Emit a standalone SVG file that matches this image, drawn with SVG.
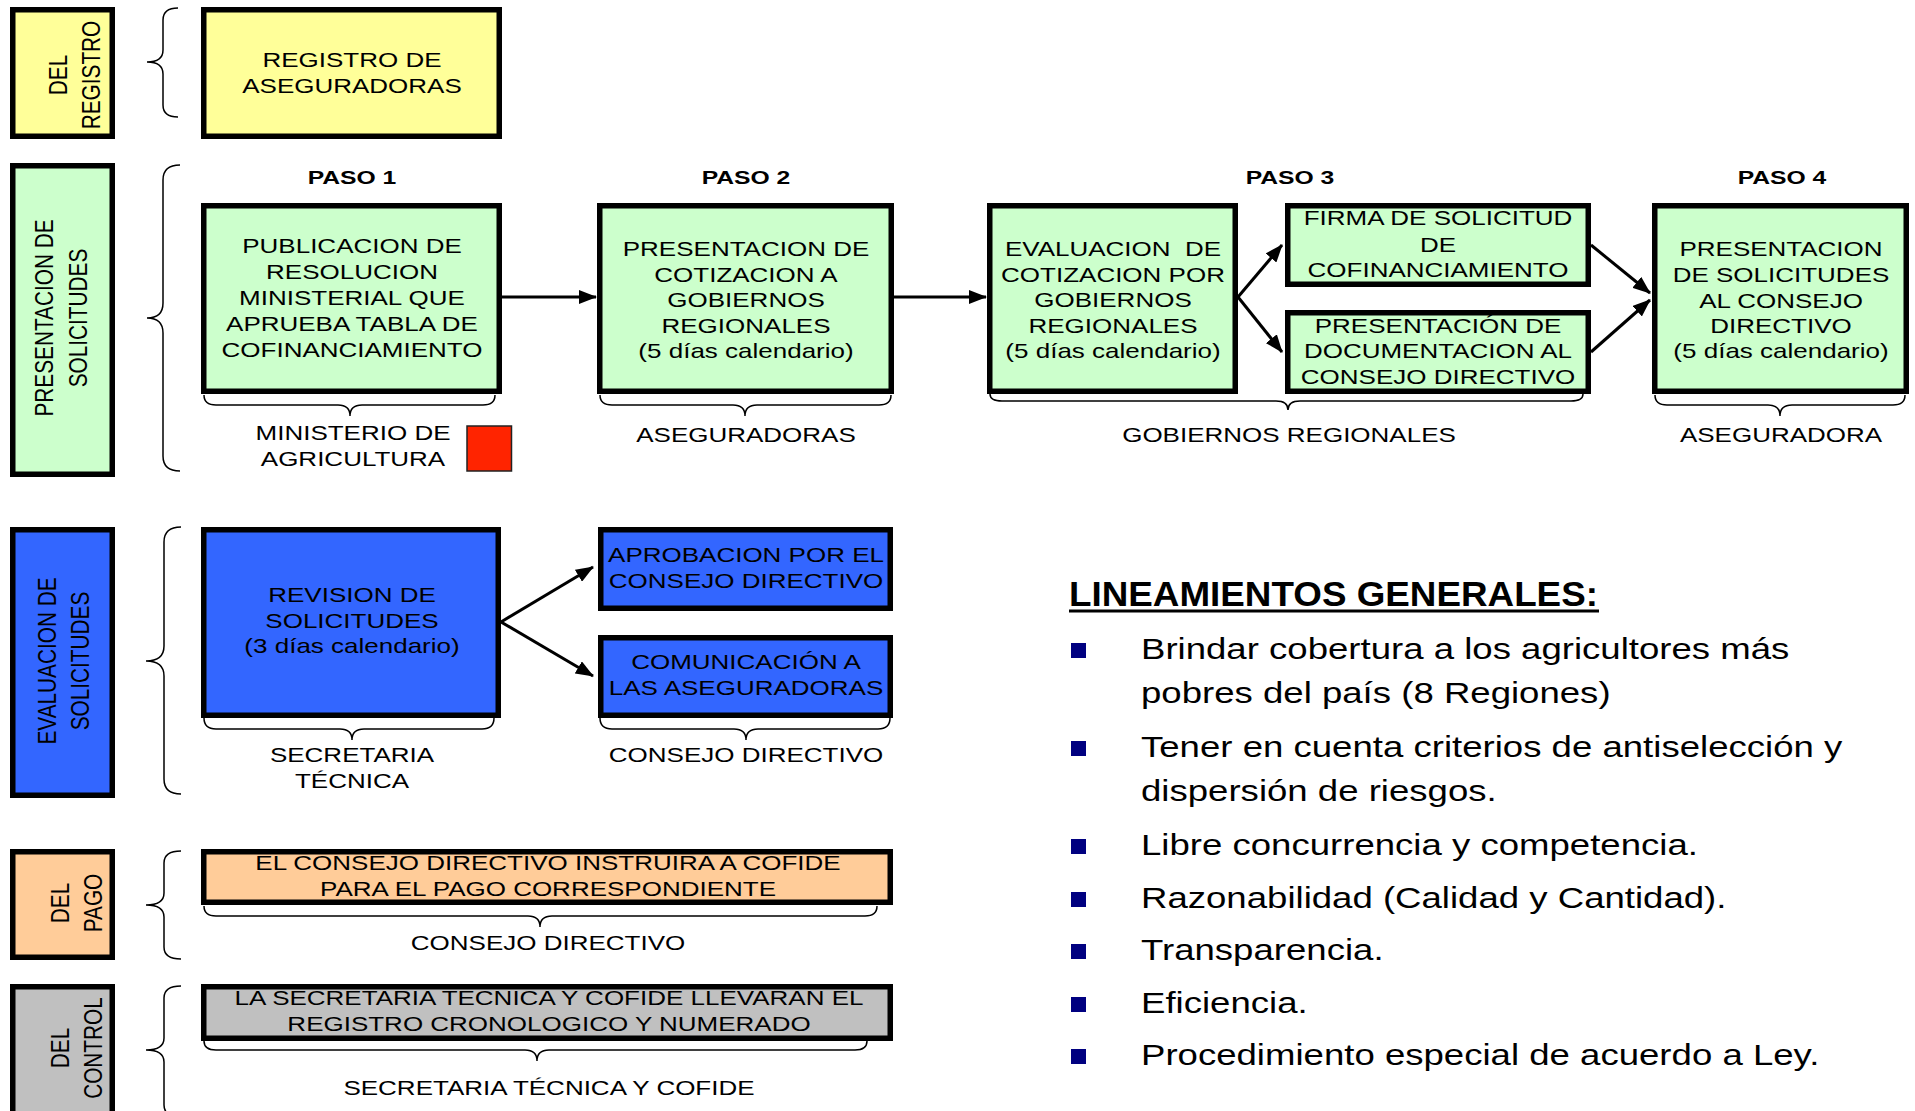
<svg xmlns="http://www.w3.org/2000/svg" width="1915" height="1111" viewBox="0 0 1915 1111">
<defs>
<style>
.box{stroke:#000;stroke-width:5.5}
.yel{fill:#FFFF99}
.grn{fill:#CCFFCC}
.blu{fill:#3366FF}
.org{fill:#FFCC99}
.gry{fill:#C0C0C0}
.t{font-family:"Liberation Sans",Arial,Helvetica,sans-serif;font-size:20px;fill:#000;text-anchor:middle}
.s{font-family:"Liberation Sans",Arial,Helvetica,sans-serif;font-size:20.8px;fill:#000;text-anchor:middle}
.p{font-family:"Liberation Sans",Arial,Helvetica,sans-serif;font-size:19px;font-weight:bold;fill:#000;text-anchor:middle}
.h{font-family:"Liberation Sans",Arial,Helvetica,sans-serif;font-size:35.5px;font-weight:bold;fill:#000}
.bl{font-family:"Liberation Sans",Arial,Helvetica,sans-serif;font-size:29.5px;fill:#000}
.brace{fill:none;stroke:#000;stroke-width:1.5}
.arr{stroke:#000;stroke-width:3;fill:none;marker-end:url(#ah)}
.bul{fill:#000080}
</style>
<marker id="ah" viewBox="0 0 18 14" refX="17" refY="7" markerWidth="18" markerHeight="14" markerUnits="userSpaceOnUse" orient="auto">
<path d="M0,0 L18,7 L0,14 z" fill="#000"/>
</marker>
</defs>
<rect width="1915" height="1111" fill="#fff"/>

<!-- side labels -->
<g id="side-registro">
<rect class="box yel" x="12.75" y="9.75" width="99.5" height="126.5"/>
<text class="s" transform="translate(67 75) scale(1.22 1) rotate(-90)">DEL</text>
<text class="s" transform="translate(100 75) scale(1.22 1) rotate(-90)">REGISTRO</text>
</g>
<g id="side-presentacion">
<rect class="box grn" x="12.75" y="165.75" width="99.5" height="308.5"/>
<text class="s" transform="translate(53 318) scale(1.22 1) rotate(-90)">PRESENTACION DE</text>
<text class="s" transform="translate(87 318) scale(1.22 1) rotate(-90)">SOLICITUDES</text>
</g>
<g id="side-evaluacion">
<rect class="box blu" x="12.75" y="529.75" width="99.5" height="265.5"/>
<text class="s" transform="translate(56 661) scale(1.22 1) rotate(-90)">EVALUACION DE</text>
<text class="s" transform="translate(89 661) scale(1.22 1) rotate(-90)">SOLICITUDES</text>
</g>
<g id="side-pago">
<rect class="box org" x="12.75" y="851.75" width="99.5" height="105.5"/>
<text class="s" transform="translate(69 903) scale(1.22 1) rotate(-90)">DEL</text>
<text class="s" transform="translate(102 903) scale(1.22 1) rotate(-90)">PAGO</text>
</g>
<g id="side-control">
<rect class="box gry" x="12.75" y="986.75" width="99.5" height="135"/>
<text class="s" transform="translate(69 1048) scale(1.22 1) rotate(-90)">DEL</text>
<text class="s" transform="translate(102 1048) scale(1.22 1) rotate(-90)">CONTROL</text>
</g>

<!-- braces -->
<g id="braces">
<path class="brace" d="M178 8 Q163 8 163 20 L163 50 Q163 62 147 62 Q163 62 163 74 L163 105 Q163 117 178 117"/>
<path class="brace" d="M180 165 Q163 165 163 180 L163 303 Q163 318 147 318 Q163 318 163 333 L163 456 Q163 471 180 471"/>
<path class="brace" d="M181 527 Q164 527 164 542 L164 646 Q164 661 146 661 Q164 661 164 676 L164 779 Q164 794 181 794"/>
<path class="brace" d="M181 851 Q164 851 164 863 L164 893 Q164 905 146 905 Q164 905 164 917 L164 947 Q164 959 181 959"/>
<path class="brace" d="M181 986 Q164 986 164 998 L164 1038 Q164 1050 146 1050 Q164 1050 164 1062 L164 1105 Q164 1117 181 1117"/>
<path class="brace" d="M204 395 Q204 405 216 405 L338 405 Q350 405 350 416 Q350 405 362 405 L483 405 Q495 405 495 395"/>
<path class="brace" d="M600 395 Q600 405 612 405 L733 405 Q745 405 745 416 Q745 405 757 405 L879 405 Q891 405 891 395"/>
<path class="brace" d="M990 394 Q990 401 1002 401 L1276 401 Q1288 401 1288 410 Q1288 401 1300 401 L1571 401 Q1583 401 1583 394"/>
<path class="brace" d="M1655 395 Q1655 405 1667 405 L1768 405 Q1780 405 1780 416 Q1780 405 1792 405 L1893 405 Q1905 405 1905 395"/>
<path class="brace" d="M204 718 Q204 729 216 729 L340 729 Q352 729 352 740 Q352 729 364 729 L482 729 Q494 729 494 718"/>
<path class="brace" d="M600 718 Q600 729 612 729 L734 729 Q746 729 746 740 Q746 729 758 729 L878 729 Q890 729 890 718"/>
<path class="brace" d="M204 906 Q204 916 216 916 L528 916 Q540 916 540 927 Q540 916 552 916 L865 916 Q877 916 877 906"/>
<path class="brace" d="M204 1041 Q204 1050 216 1050 L525 1050 Q537 1050 537 1061 Q537 1050 549 1050 L855 1050 Q867 1050 867 1041"/>
</g>

<!-- nodes -->
<g id="registro-aseguradoras">
<rect class="box yel" x="203.75" y="9.75" width="295.5" height="126.5"/>
<text class="t" transform="translate(352 0) scale(1.3 1)"><tspan x="0" y="67">REGISTRO DE</tspan><tspan x="0" y="93">ASEGURADORAS</tspan></text>
</g>

<g id="paso-labels">
<text class="p" transform="translate(352 0) scale(1.3 1)" x="0" y="184">PASO 1</text>
<text class="p" transform="translate(746 0) scale(1.3 1)" x="0" y="184">PASO 2</text>
<text class="p" transform="translate(1290 0) scale(1.3 1)" x="0" y="184">PASO 3</text>
<text class="p" transform="translate(1782 0) scale(1.3 1)" x="0" y="184">PASO 4</text>
</g>

<g id="paso1">
<rect class="box grn" x="203.75" y="205.75" width="295.5" height="185.5"/>
<text class="t" transform="translate(352 0) scale(1.3 1)"><tspan x="0" y="253">PUBLICACION DE</tspan><tspan x="0" y="279">RESOLUCION</tspan><tspan x="0" y="305">MINISTERIAL QUE</tspan><tspan x="0" y="331">APRUEBA TABLA DE</tspan><tspan x="0" y="357">COFINANCIAMIENTO</tspan></text>
</g>
<g id="paso2">
<rect class="box grn" x="599.75" y="205.75" width="291.5" height="185.5"/>
<text class="t" transform="translate(746 0) scale(1.3 1)"><tspan x="0" y="256">PRESENTACION DE</tspan><tspan x="0" y="282">COTIZACION A</tspan><tspan x="0" y="307">GOBIERNOS</tspan><tspan x="0" y="333">REGIONALES</tspan><tspan x="0" y="358">(5 días calendario)</tspan></text>
</g>
<g id="paso3-evaluacion">
<rect class="box grn" x="989.75" y="205.75" width="245.5" height="185.5"/>
<text class="t" transform="translate(1113 0) scale(1.3 1)"><tspan x="0" y="256">EVALUACION&#160; DE</tspan><tspan x="0" y="282">COTIZACION POR</tspan><tspan x="0" y="307">GOBIERNOS</tspan><tspan x="0" y="333">REGIONALES</tspan><tspan x="0" y="358">(5 días calendario)</tspan></text>
</g>
<g id="paso3-firma">
<rect class="box grn" x="1287.75" y="205.75" width="300.5" height="78.5"/>
<text class="t" transform="translate(1438 0) scale(1.3 1)"><tspan x="0" y="225">FIRMA DE SOLICITUD</tspan><tspan x="0" y="252">DE</tspan><tspan x="0" y="277">COFINANCIAMIENTO</tspan></text>
</g>
<g id="paso3-documentacion">
<rect class="box grn" x="1287.75" y="312.75" width="300.5" height="78.5"/>
<text class="t" transform="translate(1438 0) scale(1.3 1)"><tspan x="0" y="333">PRESENTACIÓN DE</tspan><tspan x="0" y="358">DOCUMENTACION AL</tspan><tspan x="0" y="384">CONSEJO DIRECTIVO</tspan></text>
</g>
<g id="paso4">
<rect class="box grn" x="1654.75" y="205.75" width="251.5" height="185.5"/>
<text class="t" transform="translate(1781 0) scale(1.3 1)"><tspan x="0" y="256">PRESENTACION</tspan><tspan x="0" y="282">DE SOLICITUDES</tspan><tspan x="0" y="308">AL CONSEJO</tspan><tspan x="0" y="333">DIRECTIVO</tspan><tspan x="0" y="358">(5 días calendario)</tspan></text>
</g>

<g id="responsables-paso">
<text class="t" transform="translate(353 0) scale(1.3 1)"><tspan x="0" y="440">MINISTERIO DE</tspan><tspan x="0" y="466">AGRICULTURA</tspan></text>
<rect x="467" y="426" width="44.5" height="45" fill="#FF2400" stroke="#222" stroke-width="1.5"/>
<text class="t" transform="translate(746 0) scale(1.3 1)" x="0" y="442">ASEGURADORAS</text>
<text class="t" transform="translate(1289 0) scale(1.3 1)" x="0" y="442">GOBIERNOS REGIONALES</text>
<text class="t" transform="translate(1781 0) scale(1.3 1)" x="0" y="442">ASEGURADORA</text>
</g>

<g id="revision">
<rect class="box blu" x="203.75" y="529.75" width="294.5" height="185.5"/>
<text class="t" transform="translate(352 0) scale(1.3 1)"><tspan x="0" y="602">REVISION DE</tspan><tspan x="0" y="628">SOLICITUDES</tspan><tspan x="0" y="653">(3 días calendario)</tspan></text>
</g>
<g id="aprobacion">
<rect class="box blu" x="600.75" y="529.75" width="289.5" height="78.5"/>
<text class="t" transform="translate(746 0) scale(1.3 1)"><tspan x="0" y="562">APROBACION POR EL</tspan><tspan x="0" y="588">CONSEJO DIRECTIVO</tspan></text>
</g>
<g id="comunicacion">
<rect class="box blu" x="600.75" y="637.75" width="289.5" height="77.5"/>
<text class="t" transform="translate(746 0) scale(1.3 1)"><tspan x="0" y="669">COMUNICACIÓN A</tspan><tspan x="0" y="695">LAS ASEGURADORAS</tspan></text>
</g>
<g id="responsables-evaluacion">
<text class="t" transform="translate(352 0) scale(1.3 1)"><tspan x="0" y="762">SECRETARIA</tspan><tspan x="0" y="788">TÉCNICA</tspan></text>
<text class="t" transform="translate(746 0) scale(1.3 1)" x="0" y="762">CONSEJO DIRECTIVO</text>
</g>

<g id="pago">
<rect class="box org" x="203.75" y="851.75" width="686.5" height="50.5"/>
<text class="t" transform="translate(548 0) scale(1.3 1)"><tspan x="0" y="870">EL CONSEJO DIRECTIVO INSTRUIRA A COFIDE</tspan><tspan x="0" y="896">PARA EL PAGO CORRESPONDIENTE</tspan></text>
<text class="t" transform="translate(548 0) scale(1.3 1)" x="0" y="950">CONSEJO DIRECTIVO</text>
</g>
<g id="control">
<rect class="box gry" x="203.75" y="986.75" width="686.5" height="51.5"/>
<text class="t" transform="translate(549 0) scale(1.3 1)"><tspan x="0" y="1005">LA SECRETARIA TECNICA Y COFIDE LLEVARAN EL</tspan><tspan x="0" y="1031">REGISTRO CRONOLOGICO Y NUMERADO</tspan></text>
<text class="t" transform="translate(549 0) scale(1.3 1)" x="0" y="1095">SECRETARIA TÉCNICA Y COFIDE</text>
</g>

<!-- connectors -->
<g id="connectors">
<line class="arr" x1="502" y1="297" x2="596" y2="297"/>
<line class="arr" x1="894" y1="297" x2="986" y2="297"/>
<line class="arr" x1="1238" y1="297" x2="1282" y2="245"/>
<line class="arr" x1="1238" y1="297" x2="1282" y2="352"/>
<line class="arr" x1="1591" y1="245" x2="1650" y2="293"/>
<line class="arr" x1="1591" y1="352" x2="1650" y2="300"/>
<line class="arr" x1="501" y1="622" x2="593" y2="567"/>
<line class="arr" x1="501" y1="622" x2="593" y2="676"/>
</g>

<!-- lineamientos -->
<g id="lineamientos">
<text class="h" transform="translate(1069 0) scale(1.037 1)" x="0" y="606">LINEAMIENTOS GENERALES:</text>
<line x1="1069" y1="611" x2="1599" y2="611" stroke="#000" stroke-width="3"/>
<rect class="bul" x="1071" y="643" width="15" height="15"/>
<rect class="bul" x="1071" y="741" width="15" height="15"/>
<rect class="bul" x="1071" y="839" width="15" height="15"/>
<rect class="bul" x="1071" y="892" width="15" height="15"/>
<rect class="bul" x="1071" y="944" width="15" height="15"/>
<rect class="bul" x="1071" y="997" width="15" height="15"/>
<rect class="bul" x="1071" y="1049" width="15" height="15"/>
<g transform="translate(1141 0) scale(1.24 1)">
<text class="bl" x="0" y="659">Brindar cobertura a los agricultores más</text>
<text class="bl" x="0" y="703">pobres del país (8 Regiones)</text>
<text class="bl" x="0" y="757">Tener en cuenta criterios de antiselección y</text>
<text class="bl" x="0" y="801">dispersión de riesgos.</text>
<text class="bl" x="0" y="855">Libre concurrencia y competencia.</text>
<text class="bl" x="0" y="908">Razonabilidad (Calidad y Cantidad).</text>
<text class="bl" x="0" y="960">Transparencia.</text>
<text class="bl" x="0" y="1013">Eficiencia.</text>
<text class="bl" x="0" y="1065">Procedimiento especial de acuerdo a Ley.</text>
</g>
</g>
</svg>
